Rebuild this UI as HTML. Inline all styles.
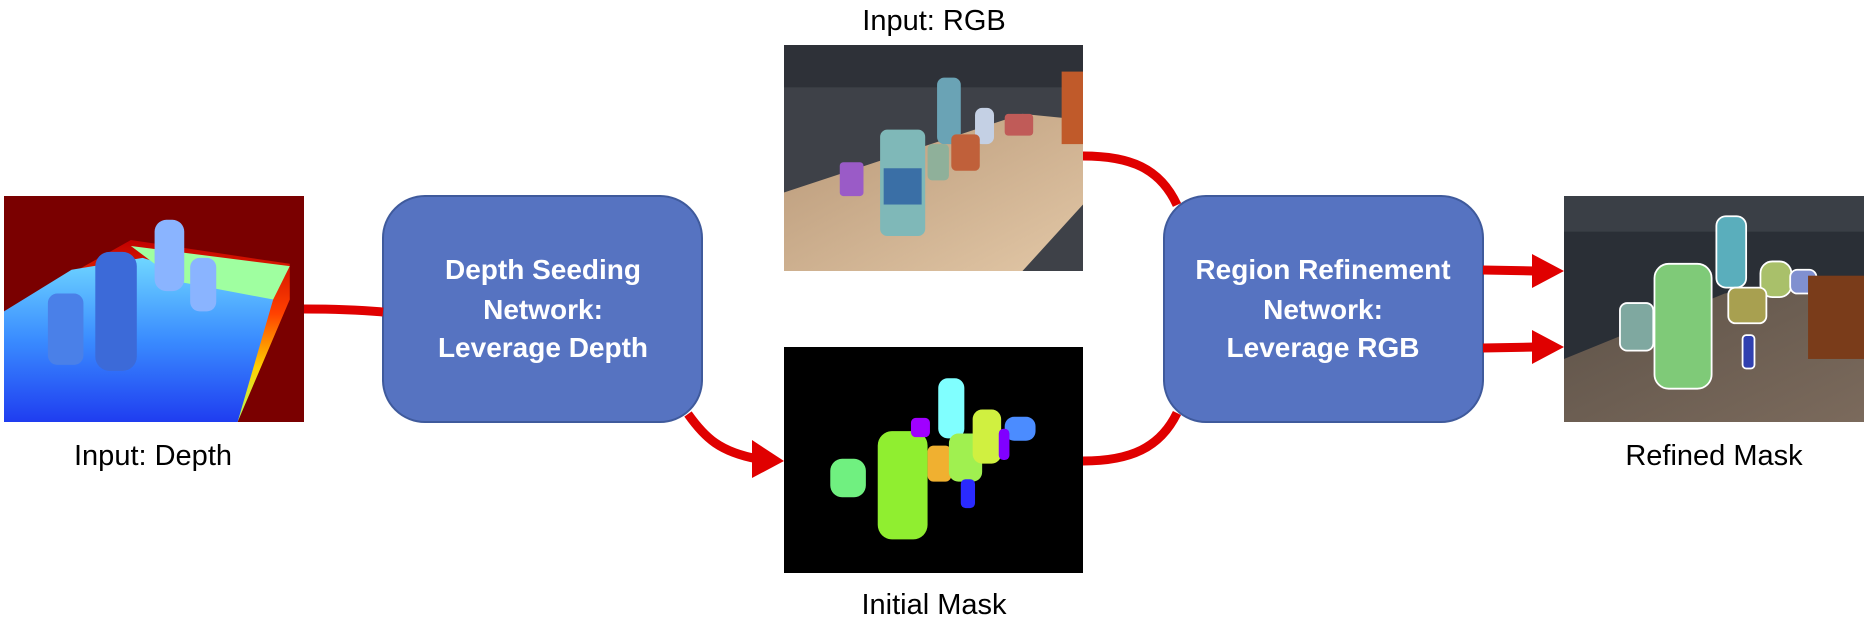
<!DOCTYPE html>
<html><head><meta charset="utf-8"><style>
html,body{margin:0;padding:0;background:#fff;overflow:hidden}
svg text{font-family:"Liberation Sans",sans-serif}
</style></head><body>
<svg width="1865" height="619" viewBox="0 0 1865 619" xmlns="http://www.w3.org/2000/svg" style="display:block">
<defs>
<linearGradient id="dep" x1="0" y1="0" x2="0" y2="1">
<stop offset="0" stop-color="#6fd6ff"/><stop offset="0.5" stop-color="#3a8cff"/><stop offset="1" stop-color="#1f3df0"/>
</linearGradient>
<linearGradient id="warm" x1="0" y1="0" x2="0" y2="1">
<stop offset="0" stop-color="#c00000"/><stop offset="0.4" stop-color="#ff4000"/><stop offset="0.7" stop-color="#ffd000"/><stop offset="1" stop-color="#b0ff60"/>
</linearGradient>
<linearGradient id="tbl" x1="0" y1="0" x2="1" y2="1">
<stop offset="0" stop-color="#b89878"/><stop offset="1" stop-color="#e2c7a6"/>
</linearGradient>
<linearGradient id="tbl2" x1="0" y1="0" x2="1" y2="1">
<stop offset="0" stop-color="#5d5248"/><stop offset="1" stop-color="#7b6a5c"/>
</linearGradient>
</defs>

<svg x="4" y="196" width="300" height="226" viewBox="3 163 253 190" preserveAspectRatio="none">
<rect x="3" y="163" width="253" height="190" fill="#7a0000"/>
<polygon points="3,260 3,353 200,353 244,250 244,220 110,200" fill="url(#warm)"/>
<polygon points="3,260 3,353 200,353 230,250 120,215 60,225" fill="url(#dep)"/>
<polygon points="110,205 244,222 230,250 150,235" fill="#9fffa0"/>
<rect x="130" y="183" width="25" height="60" rx="10" fill="#8ab4ff"/>
<rect x="80" y="210" width="35" height="100" rx="12" fill="#3c6ad8"/>
<rect x="160" y="215" width="22" height="45" rx="8" fill="#8ab4ff"/>
<rect x="40" y="245" width="30" height="60" rx="8" fill="#4a80e8"/>
</svg>

<svg x="784" y="45" width="299" height="226" viewBox="659 38 252 187" preserveAspectRatio="none">
<rect x="659" y="38" width="252" height="187" fill="#3e4148"/>
<polygon points="659,160 860,95 911,100 911,170 860,225 659,225" fill="url(#tbl)"/>
<rect x="659" y="38" width="252" height="35" fill="#2e3138"/>
<rect x="740" y="108" width="38" height="88" rx="6" fill="#7fb8b8"/>
<rect x="743" y="140" width="32" height="30" fill="#3a6fa6"/>
<rect x="788" y="65" width="20" height="55" rx="6" fill="#6aa3b5"/>
<rect x="820" y="90" width="16" height="30" rx="6" fill="#c4d0e4"/>
<rect x="800" y="112" width="24" height="30" rx="4" fill="#c0603a"/>
<rect x="706" y="135" width="20" height="28" rx="3" fill="#9a5bc7"/>
<rect x="780" y="120" width="18" height="30" rx="4" fill="#8fb09a"/>
<rect x="845" y="95" width="24" height="18" rx="3" fill="#c05b58"/>
<rect x="893" y="60" width="18" height="60" fill="#c05a2a"/>
</svg>

<svg x="784" y="347" width="299" height="226" viewBox="659 290 252 188" preserveAspectRatio="none">
<rect x="659" y="290" width="252" height="188" fill="#000"/>
<rect x="789" y="316" width="22" height="50" rx="8" fill="#80ffff"/>
<rect x="738" y="360" width="42" height="90" rx="12" fill="#90ee30"/>
<rect x="780" y="372" width="20" height="30" rx="5" fill="#f0b030"/>
<rect x="798" y="362" width="28" height="40" rx="8" fill="#a0f050"/>
<rect x="818" y="342" width="24" height="45" rx="8" fill="#d0f040"/>
<rect x="845" y="348" width="26" height="20" rx="8" fill="#4b8cff"/>
<rect x="840" y="358" width="9" height="26" rx="4" fill="#8000ff"/>
<rect x="766" y="349" width="16" height="16" rx="4" fill="#a000ff"/>
<rect x="698" y="383" width="30" height="32" rx="10" fill="#70f080"/>
<rect x="808" y="400" width="12" height="24" rx="4" fill="#2a2aff"/>
</svg>

<svg x="1564" y="196" width="300" height="226" viewBox="1315 163 252 190" preserveAspectRatio="none">
<rect x="1315" y="163" width="252" height="190" fill="#2a2f36"/>
<polygon points="1315,300 1450,245 1530,232 1567,250 1567,353 1315,353" fill="url(#tbl2)"/>
<rect x="1315" y="163" width="252" height="30" fill="#3a3f46"/>
<rect x="1391" y="220" width="48" height="105" rx="12" fill="#7fca78" stroke="#fff" stroke-width="1.5"/>
<rect x="1443" y="180" width="25" height="60" rx="8" fill="#5aaebc" stroke="#fff" stroke-width="1.5"/>
<rect x="1480" y="218" width="26" height="30" rx="10" fill="#a9c06a" stroke="#fff" stroke-width="1.5"/>
<rect x="1453" y="240" width="32" height="30" rx="6" fill="#a8a050" stroke="#fff" stroke-width="1.5"/>
<rect x="1362" y="253" width="28" height="40" rx="6" fill="#7fa8a0" stroke="#fff" stroke-width="1.5"/>
<rect x="1505" y="225" width="22" height="20" rx="6" fill="#8090d0" stroke="#fff" stroke-width="1.5"/>
<rect x="1465" y="280" width="10" height="28" rx="3" fill="#3040b0" stroke="#fff" stroke-width="1.5"/>
<rect x="1520" y="230" width="47" height="70" fill="#7a3c1a"/>
</svg>

<rect x="383" y="196" width="319" height="226" rx="42" fill="#5673c1" stroke="#3f5a9c" stroke-width="2"/>
<rect x="1164" y="196" width="319" height="226" rx="42" fill="#5673c1" stroke="#3f5a9c" stroke-width="2"/>
<g fill="#fff" font-weight="bold" font-size="28" text-anchor="middle">
<text x="543" y="279">Depth Seeding</text>
<text x="543" y="319">Network:</text>
<text x="543" y="357">Leverage Depth</text>
<text x="1323" y="279">Region Refinement</text>
<text x="1323" y="319">Network:</text>
<text x="1323" y="357">Leverage RGB</text>
</g>

<g fill="none" stroke="#e00000" stroke-width="9">
<path d="M304,309 C340,309 360,310 383,312"/>
<path d="M688,414 C705,438 720,452 758,459"/>
<path d="M1083,156 C1130,156 1160,168 1177,205"/>
<path d="M1083,461 C1130,461 1160,448 1177,413"/>
<path d="M1483,270 L1535,271"/>
<path d="M1483,348 L1535,347"/>
</g>
<g fill="#e00000">
<polygon points="752,440 784,461 752,478"/>
<polygon points="1532,254 1564,271 1532,288"/>
<polygon points="1532,330 1564,347 1532,364"/>
</g>

<g fill="#000" font-size="29" text-anchor="middle">
<text x="934" y="30">Input: RGB</text>
<text x="153" y="465">Input: Depth</text>
<text x="934" y="614">Initial Mask</text>
<text x="1714" y="465">Refined Mask</text>
</g>
</svg>
</body></html>
